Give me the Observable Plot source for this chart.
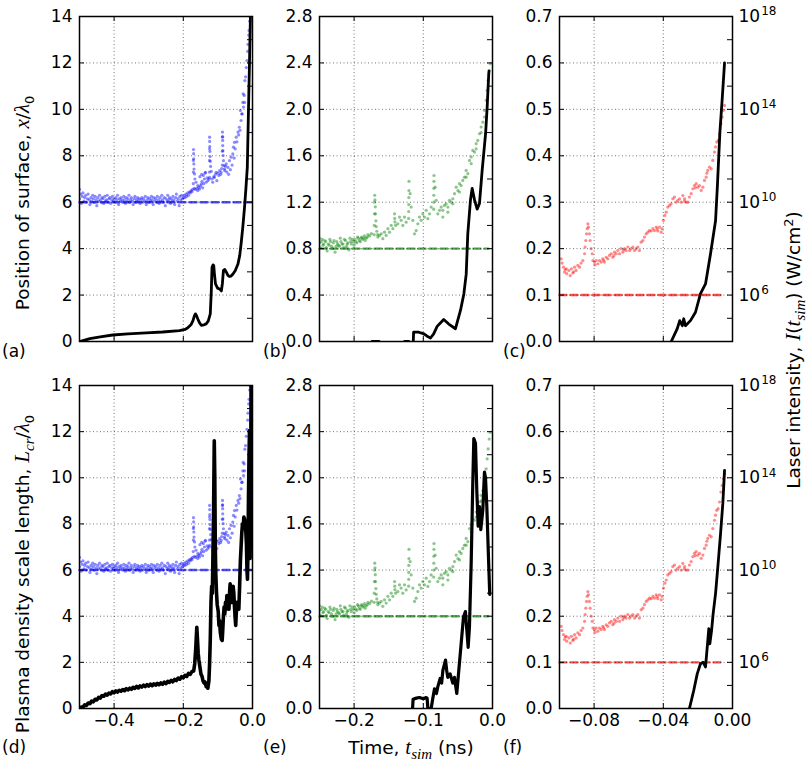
<!DOCTYPE html>
<html><head><meta charset="utf-8">
<script src="https://cdn.jsdelivr.net/npm/d3@7"></script>
<script src="https://cdn.jsdelivr.net/npm/@observablehq/plot@0.6"></script>
<style>
body{margin:0;background:#fff;}
#chart{position:relative;width:808px;height:765px;background:#fff;overflow:hidden;}
#chart svg{position:absolute;left:0;top:0;}
</style></head><body><div id="chart"></div>
<script>
// ---------------- DATA ----------------
// time axes (ns)
const xDomainA = [-0.5, 0], xDomainB = [-0.25, 0], xDomainC = [-0.1, 0];
const xTicksA = [-0.4, -0.2, 0.0], xTicksB = [-0.2, -0.1, 0.0], xTicksC = [-0.08, -0.04, 0.0];
const yDomainA = [0, 14], yDomainB = [0, 2.8], yDomainC = [0, 0.7];
const yTicksA = [0, 2, 4, 6, 8, 10, 12, 14];
const yTicksB = [0, 0.4, 0.8, 1.2, 1.6, 2.0, 2.4, 2.8];
const yTicksC = [0, 0.1, 0.2, 0.3, 0.4, 0.5, 0.6, 0.7];
// right axis: log10 of laser intensity (W/cm^2)
const intensityDomainExp = [4, 18];
const intensityLabelExp = [6, 10, 14, 18];
const intensityTickExp = [5, 6, 7, 8, 9, 10, 11, 12, 13, 14, 15, 16, 17];
// threshold intensity (dashed), [t, log10 I]
const thresholdA = [[-0.5, 10], [0, 10]];
const thresholdB = [[-0.25, 8], [-0.006, 8]];
const thresholdC = [[-0.1, 6], [-0.006, 6]];

// laser intensity samples [t (ns), log10 I] - blue (a,d)
const blueDots = [
[-0.500,10.55],[-0.500,10.15],[-0.497,10.35],[-0.495,9.95],[-0.492,10.25],[-0.490,10.4],[-0.487,10.05],[-0.485,10.2],[-0.482,10.3],[-0.480,10.0],
[-0.477,10.15],[-0.475,10.35],[-0.472,10.1],[-0.470,9.9],[-0.467,10.2],[-0.465,10.05],[-0.462,10.3],[-0.460,10.15],[-0.457,10.0],[-0.455,10.25],
[-0.452,10.1],[-0.450,9.85],[-0.447,10.2],[-0.445,10.05],[-0.442,10.3],[-0.440,10.1],[-0.437,10.0],[-0.435,10.2],[-0.432,10.15],[-0.430,9.95],
[-0.427,10.25],[-0.425,10.05],[-0.422,10.1],[-0.420,10.3],[-0.417,10.0],[-0.415,10.15],[-0.412,10.2],[-0.410,9.95],[-0.407,10.1],[-0.405,10.25],
[-0.402,10.05],[-0.400,10.15],[-0.397,10.0],[-0.395,10.2],[-0.392,10.1],[-0.390,10.3],[-0.387,9.9],[-0.385,10.15],[-0.382,10.05],[-0.380,10.2],
[-0.377,10.1],[-0.375,10.0],[-0.372,10.25],[-0.370,10.1],[-0.367,9.95],[-0.365,10.2],[-0.362,10.05],[-0.360,10.15],[-0.357,10.3],[-0.355,10.0],
[-0.352,10.1],[-0.350,10.2],[-0.347,10.05],[-0.345,9.9],[-0.342,10.15],[-0.340,10.25],[-0.337,10.0],[-0.335,10.1],[-0.332,10.2],[-0.330,10.05],
[-0.327,10.15],[-0.325,9.95],[-0.322,10.1],[-0.320,10.2],[-0.317,10.0],[-0.315,10.15],[-0.312,10.05],[-0.310,10.25],[-0.307,9.9],[-0.305,10.1],
[-0.302,10.2],[-0.300,10.0],[-0.297,10.15],[-0.295,10.05],[-0.292,10.25],[-0.290,10.1],[-0.287,9.9],[-0.285,10.2],[-0.282,10.05],[-0.280,10.15],
[-0.277,10.0],[-0.275,10.25],[-0.272,10.1],[-0.270,9.95],[-0.267,10.2],[-0.265,10.05],[-0.262,10.3],[-0.260,10.1],[-0.257,10.0],[-0.255,10.2],
[-0.252,9.85],[-0.250,10.15],[-0.247,10.05],[-0.245,10.3],[-0.242,10.1],[-0.240,10.2],[-0.237,9.95],[-0.235,10.15],[-0.232,10.05],[-0.230,10.25],
[-0.227,10.1],[-0.225,9.9],[-0.222,10.2],[-0.220,10.35],[-0.217,10.05],[-0.215,10.15],[-0.212,9.85],[-0.210,10.25],[-0.207,10.1],[-0.205,10.3],
[-0.202,10.15],[-0.200,10.2],[-0.197,10.3],[-0.195,10.2],[-0.192,10.35],[-0.190,10.25],[-0.187,10.4],[-0.185,10.3],[-0.182,10.45],[-0.180,10.4],
[-0.177,10.5],[-0.175,10.45],[-0.173,10.55],
[-0.1712,10.8],[-0.171,11.3],[-0.1708,11.8],[-0.1706,12.27],[-0.1702,12.09],[-0.170,11.87],[-0.1695,11.65],[-0.169,11.43],[-0.1675,11.22],[-0.1665,11.0],[-0.163,10.86],[-0.158,10.72],
[-0.168,10.6],[-0.165,10.55],[-0.160,10.6],[-0.158,10.5],[-0.155,10.65],[-0.153,10.57],[-0.150,10.7],[-0.148,10.79],[-0.146,10.9],[-0.144,10.62],
[-0.141,10.8],[-0.139,11.0],[-0.136,11.29],[-0.134,10.86],[-0.131,11.05],[-0.129,10.93],[-0.126,11.0],[-0.124,11.07],
[-0.152,11.1],[-0.147,11.2],[-0.142,11.15],[-0.137,11.25],
[-0.1245,11.3],[-0.1243,11.8],[-0.1241,12.3],[-0.124,12.8],[-0.1238,12.62],[-0.1235,12.4],[-0.123,12.19],[-0.1225,11.97],[-0.122,11.76],[-0.121,11.54],[-0.119,11.33],
[-0.117,11.0],[-0.115,10.86],[-0.112,11.1],[-0.110,11.07],[-0.107,11.2],[-0.105,11.29],[-0.103,10.93],[-0.100,11.25],[-0.097,11.15],[-0.095,11.36],[-0.092,11.2],[-0.0906,11.29],[-0.089,11.45],
[-0.0872,11.6],[-0.087,12.2],[-0.0868,12.8],[-0.0867,13.02],[-0.0865,12.83],[-0.0862,12.66],[-0.086,12.44],[-0.0855,12.22],[-0.085,12.01],[-0.084,11.79],[-0.082,11.58],[-0.080,11.36],
[-0.081,11.43],[-0.078,11.55],[-0.076,11.65],[-0.074,11.3],[-0.071,11.5],[-0.069,11.2],[-0.0665,11.79],[-0.064,11.4],[-0.0617,11.94],[-0.059,11.6],
[-0.057,12.08],[-0.055,12.37],[-0.053,11.9],[-0.052,12.58],[-0.050,12.3],[-0.047,12.8],[-0.045,12.6],[-0.042,13.02],[-0.040,12.9],[-0.038,13.23],
[-0.036,13.1],[-0.035,13.95],[-0.033,13.52],[-0.031,13.8],[-0.030,13.81],[-0.028,14.3],[-0.027,14.67],[-0.026,14.1],[-0.024,14.6],[-0.023,14.3],
[-0.022,15.24],[-0.020,15.4],[-0.018,15.8],[-0.016,16.1],[-0.014,16.5],[-0.013,16.8],[-0.011,17.2],[-0.010,17.4],[-0.008,17.8],[-0.007,18.0]
];

// green (b,e)
const greenDots = [
[-0.250,8.45],[-0.250,8.25],[-0.2475,8.3],[-0.245,8.15],[-0.2425,8.35],[-0.240,8.05],[-0.2375,8.2],[-0.235,8.4],[-0.2325,8.1],[-0.230,8.25],
[-0.2275,7.85],[-0.225,8.3],[-0.2225,8.15],[-0.220,8.45],[-0.2175,8.2],[-0.215,8.05],[-0.2125,8.35],[-0.210,8.2],[-0.2075,7.95],[-0.205,8.3],
[-0.2025,8.4],[-0.200,8.15],[-0.1975,8.3],[-0.195,8.5],[-0.1925,8.35],[-0.190,8.45],[-0.1875,8.4],[-0.185,8.55],[-0.1825,8.45],[-0.180,8.6],
[-0.1775,8.55],[-0.175,8.65],
[-0.249,8.05],[-0.246,8.4],[-0.244,8.2],[-0.241,8.3],[-0.239,7.9],[-0.236,8.15],[-0.234,8.3],[-0.231,8.0],[-0.229,8.35],[-0.226,8.1],
[-0.224,8.2],[-0.221,8.1],[-0.219,8.3],[-0.216,8.2],[-0.214,8.4],[-0.211,8.1],[-0.209,8.25],[-0.206,8.45],[-0.204,8.2],[-0.201,8.3],
[-0.199,8.4],[-0.196,8.25],[-0.194,8.45],[-0.191,8.3],[-0.189,8.5],[-0.186,8.45],[-0.184,8.35],[-0.181,8.5],
[-0.1710,8.6],[-0.1708,9.0],[-0.1706,9.5],[-0.1704,10.0],[-0.1702,10.3],[-0.1698,10.1],[-0.1694,9.8],[-0.169,9.5],[-0.1685,9.2],[-0.168,8.95],[-0.1672,8.75],[-0.166,8.6],
[-0.1657,8.5],[-0.1633,8.57],[-0.1609,8.64],[-0.1585,8.43],[-0.1561,8.71],[-0.1537,8.57],[-0.1512,8.86],[-0.1488,8.71],[-0.1464,9.0],[-0.144,8.86],
[-0.1415,9.5],[-0.1413,9.3],[-0.141,9.15],[-0.140,9.0],
[-0.1368,9.07],[-0.1344,9.36],[-0.132,9.22],[-0.1296,9.0],[-0.1272,9.36],[-0.1248,9.14],
[-0.1212,9.3],[-0.1211,9.6],[-0.1210,9.9],[-0.1209,10.2],[-0.1208,10.5],[-0.1207,10.9],[-0.119,10.37],[-0.1175,9.79],[-0.1151,9.22],[-0.1127,8.64],
[-0.1103,8.78],[-0.1079,9.07],[-0.1055,9.36],[-0.1031,9.22],[-0.1007,9.5],[-0.0983,9.36],[-0.0959,9.65],[-0.0934,9.29],[-0.091,9.5],[-0.0886,9.79],
[-0.0850,9.7],[-0.0849,10.0],[-0.0848,10.3],[-0.0847,10.6],[-0.0846,10.9],[-0.0845,11.15],[-0.0828,10.65],[-0.0814,10.08],[-0.079,9.5],[-0.0766,9.65],
[-0.0742,9.79],[-0.0718,9.65],[-0.0694,9.86],[-0.067,9.93],[-0.0645,9.79],[-0.0621,10.08],[-0.0597,10.0],[-0.0573,10.15],[-0.0549,10.37],[-0.0525,10.65],
[-0.050,10.5],[-0.0477,10.8],[-0.0453,10.72],[-0.0429,10.94],[-0.0405,11.08],[-0.0381,11.37],[-0.0356,11.23],[-0.0332,11.8],[-0.0308,11.95],[-0.0284,12.23],
[-0.026,12.16],[-0.0236,12.52],[-0.0212,12.66],[-0.0188,12.95],[-0.0164,13.24],[-0.014,13.45],[-0.0116,13.96],[-0.0092,14.39],[-0.0077,14.82],[-0.0063,15.25],
[-0.0048,15.68],[-0.0034,15.97],
[-0.0718,9.36],[-0.0645,9.57],[-0.0573,9.93],[-0.0477,10.44],[-0.0381,11.08],[-0.0308,11.66],[-0.0236,12.3],[-0.0164,13.0],[-0.0116,13.67]
];

// red (c,f)
const redDots = [
[-0.099,7.56],[-0.0985,7.38],[-0.0977,7.2],[-0.0971,6.99],[-0.0961,7.13],[-0.0958,6.92],[-0.0946,7.06],[-0.0938,6.84],[-0.0931,7.13],[-0.0923,6.95],
[-0.0913,7.2],[-0.0904,7.06],[-0.0894,7.28],[-0.0884,7.2],[-0.0875,7.38],[-0.0865,7.49],
[-0.0855,7.78],[-0.0852,8.07],[-0.0848,8.35],[-0.0844,8.64],[-0.084,8.86],[-0.0836,9.07],[-0.0832,8.93],[-0.0827,8.64],[-0.0823,8.35],[-0.0817,8.0],
[-0.0811,7.78],[-0.0807,7.49],[-0.0798,7.42],[-0.0788,7.49],[-0.0778,7.35],[-0.0769,7.49],[-0.0759,7.42],[-0.075,7.56],[-0.074,7.42],[-0.073,7.63],
[-0.0721,7.56],[-0.0711,7.71],[-0.0701,7.78],[-0.0692,7.63],[-0.0682,7.85],[-0.0672,7.78],[-0.0663,7.92],[-0.0653,7.78],[-0.0644,8.0],[-0.0634,7.85],
[-0.0624,8.0],[-0.0615,7.92],[-0.0605,8.07],[-0.0595,7.92],[-0.0586,8.0],[-0.0576,8.07],[-0.0566,7.92],[-0.0557,8.0],[-0.0547,8.07],[-0.0538,7.92],
[-0.0528,8.28],[-0.0518,8.35],[-0.0509,8.5],[-0.0499,8.64],[-0.0489,8.71],[-0.048,8.78],[-0.047,8.76],[-0.046,8.86],[-0.0451,8.78],[-0.0441,8.93],
[-0.0432,8.76],[-0.0422,8.93],[-0.0412,8.71],[-0.0407,8.86],[-0.0399,9.22],[-0.0391,9.43],[-0.0383,9.57],[-0.0374,9.79],[-0.0364,9.86],[-0.0355,9.93],
[-0.0345,10.15],[-0.0335,10.22],[-0.0326,10.0],[-0.0316,10.08],[-0.0306,10.15],[-0.0297,10.0],[-0.0287,10.29],[-0.0277,10.15],[-0.0268,10.0],[-0.0258,10.0],
[-0.0249,10.22],[-0.0239,10.37],[-0.0229,10.58],[-0.022,10.72],[-0.021,10.8],[-0.020,10.65],[-0.0191,10.72],[-0.0181,10.51],[-0.0171,10.65],[-0.0162,10.94],
[-0.0152,11.08],[-0.0143,11.37],[-0.0133,11.51],[-0.0123,11.44],[-0.0114,11.8],[-0.0104,12.16],[-0.0098,12.38],[-0.0091,12.59],[-0.0083,12.66],[-0.0075,12.95],
[-0.0067,13.38],[-0.006,13.67],[-0.0052,13.96],[-0.0046,14.17],
[-0.0967,7.1],[-0.0918,7.0],[-0.0795,7.3],[-0.0745,7.5],[-0.0685,7.7],[-0.0628,7.95],[-0.0435,8.85],[-0.0278,10.05],[-0.0215,10.62],[-0.0148,11.25]
];

// position of surface x/lambda0 : [t, value]
const aLine = [
[-0.5,0.0],[-0.47,0.12],[-0.44,0.2],[-0.404,0.28],[-0.36,0.33],[-0.307,0.37],[-0.26,0.41],[-0.211,0.47],[-0.195,0.52],[-0.187,0.59],
[-0.178,0.72],[-0.172,0.9],[-0.168,1.1],[-0.165,1.19],[-0.162,1.12],[-0.158,0.97],[-0.153,0.8],[-0.148,0.7],[-0.14,0.72],[-0.134,0.76],
[-0.128,0.88],[-0.122,1.19],[-0.119,2.2],[-0.117,3.2],[-0.114,3.3],[-0.112,3.27],[-0.11,2.9],[-0.107,2.48],[-0.101,2.3],[-0.095,2.26],
[-0.09,2.18],[-0.087,2.5],[-0.084,3.06],[-0.08,3.1],[-0.076,3.0],[-0.071,2.85],[-0.067,2.8],[-0.062,2.82],[-0.057,2.9],[-0.05,3.05],
[-0.042,3.34],[-0.037,3.7],[-0.033,4.2],[-0.028,4.93],[-0.023,5.79],[-0.019,6.6],[-0.015,7.5],[-0.011,10.4],[-0.008,12.5],[-0.006,13.97],[-0.005,14.5]
];
const bLine = [
[-0.174,0,0],[-0.164,0,0],
[-0.127,0,1],[-0.121,0,1],
[-0.1145,0.0,2],[-0.114,0.08,2],[-0.1065,0.08,2],[-0.099,0.066,2],[-0.093,0.04,2],[-0.0896,0.03,2],[-0.085,0.066,2],[-0.08,0.13,2],[-0.0705,0.19,2],
[-0.0632,0.15,2],[-0.0535,0.11,2],[-0.0462,0.27,2],[-0.0414,0.41,2],[-0.038,0.58,2],[-0.0357,0.93,2],[-0.0318,1.22,2],[-0.0294,1.32,2],[-0.026,1.22,2],
[-0.0222,1.14,2],[-0.0188,1.19,2],[-0.015,1.47,2],[-0.01,1.79,2],[-0.0077,2.02,2],[-0.0054,2.31,2],[-0.005,2.33,2]
];
const cLine = [
[-0.0354,0.0],[-0.032,0.027],[-0.0305,0.045],[-0.029,0.034],[-0.0282,0.049],[-0.0272,0.034],[-0.0243,0.045],[-0.0214,0.063],[-0.0185,0.103],
[-0.0156,0.124],[-0.0127,0.189],[-0.0098,0.26],[-0.0088,0.33],[-0.0073,0.45],[-0.006,0.52],[-0.0046,0.6]
];
// plasma density scale length L_cr/lambda0 : [t, value]
const dLine = [
[-0.5,0.0],[-0.495,0.06],[-0.49,0.05],[-0.485,0.16],[-0.48,0.13],[-0.475,0.24],[-0.47,0.21],[-0.465,0.32],[-0.46,0.29],[-0.455,0.4],
[-0.45,0.37],[-0.445,0.48],[-0.44,0.45],[-0.435,0.56],[-0.43,0.53],[-0.425,0.62],[-0.42,0.58],[-0.415,0.67],[-0.41,0.63],[-0.405,0.73],
[-0.4,0.68],[-0.395,0.76],[-0.39,0.71],[-0.385,0.79],[-0.38,0.75],[-0.375,0.82],[-0.37,0.77],[-0.365,0.86],[-0.36,0.81],[-0.355,0.88],
[-0.35,0.83],[-0.345,0.92],[-0.34,0.87],[-0.335,0.96],[-0.33,0.89],[-0.325,0.98],[-0.32,0.93],[-0.315,1.01],[-0.31,0.95],[-0.305,1.03],
[-0.3,0.97],[-0.295,1.06],[-0.29,0.99],[-0.285,1.07],[-0.28,1.01],[-0.275,1.09],[-0.27,1.03],[-0.265,1.11],[-0.26,1.05],[-0.255,1.14],
[-0.25,1.08],[-0.245,1.18],[-0.24,1.13],[-0.235,1.22],[-0.23,1.16],[-0.225,1.26],[-0.22,1.21],[-0.215,1.32],[-0.21,1.27],[-0.205,1.38],
[-0.2,1.33],[-0.195,1.44],[-0.19,1.39],[-0.185,1.52],[-0.18,1.48],[-0.175,1.6],[-0.17,1.62],[-0.167,1.94],[-0.164,2.6],[-0.161,3.52],
[-0.159,3.0],[-0.157,2.4],[-0.155,2.1],[-0.152,1.8],[-0.149,1.5],[-0.146,1.4],[-0.143,1.2],[-0.14,1.1],[-0.137,1.15],[-0.134,0.95],
[-0.131,1.0],[-0.129,0.88],[-0.126,1.2],[-0.124,1.94],[-0.122,3.0],[-0.12,4.6],[-0.118,5.3],[-0.116,5.0],[-0.1147,6.27],[-0.1125,8.5],
[-0.1105,11.6],[-0.109,10.0],[-0.1075,7.0],[-0.106,5.8],[-0.104,5.0],[-0.102,4.5],[-0.099,4.2],[-0.097,3.6],[-0.095,3.8],[-0.093,3.3],
[-0.09,3.0],[-0.0876,2.95],[-0.086,3.4],[-0.084,4.0],[-0.082,4.4],[-0.08,4.1],[-0.078,4.6],[-0.076,4.3],[-0.074,4.9],[-0.072,4.5],
[-0.07,4.7],[-0.068,4.3],[-0.066,5.1],[-0.0646,5.4],[-0.062,4.6],[-0.06,5.0],[-0.058,4.6],[-0.056,5.3],[-0.054,5.0],[-0.052,4.4],
[-0.05,3.9],[-0.0485,3.6],[-0.047,4.1],[-0.045,4.6],[-0.043,4.3],[-0.041,4.5],[-0.0395,4.3],[-0.037,5.4],[-0.035,6.4],[-0.033,7.0],
[-0.031,7.6],[-0.029,8.0],[-0.027,7.8],[-0.025,8.3],[-0.023,8.2],[-0.021,8.0],[-0.019,7.6],[-0.0175,7.1],[-0.016,6.0],[-0.0145,5.6],
[-0.013,7.0],[-0.0116,9.16],[-0.01,11.0],[-0.0087,12.05],[-0.0078,9.0],[-0.007,6.5],[-0.006,8.0],[-0.005,11.0],[-0.004,14.5]
];
const eLine = [
[-0.1155,0,0],[-0.1148,0.08,0],[-0.11,0.09,0],[-0.1055,0.095,0],[-0.1,0.085,0],[-0.0959,0.095,0],[-0.0945,0.09,0],[-0.0934,0.0,0],[-0.0886,0.0,0],
[-0.0865,0.08,0],[-0.0838,0.17,0],[-0.081,0.13,0],[-0.079,0.19,0],[-0.0756,0.26,0],[-0.0735,0.22,0],[-0.0717,0.33,0],[-0.0679,0.42,0],[-0.0662,0.33,0],
[-0.0646,0.27,0],[-0.0612,0.3,0],[-0.0574,0.22,0],[-0.055,0.27,0],[-0.0516,0.13,0],[-0.0487,0.33,0],[-0.0453,0.56,0],[-0.042,0.79,0],[-0.0391,0.84,0],
[-0.0371,0.68,0],[-0.0352,0.53,0],[-0.0333,0.71,0],[-0.0308,1.26,0],[-0.0284,1.98,0],[-0.027,2.34,0],[-0.0246,2.3,0],[-0.0227,1.89,0],[-0.0207,1.58,0],
[-0.0188,1.75,0],[-0.0169,1.55,0],[-0.014,1.72,0],[-0.0116,2.05,0],[-0.0101,2.0,0],[-0.0082,1.75,0],[-0.0058,1.31,0],[-0.004,0.99,0]
];
const fLine = [
[-0.0249,0.0],[-0.0224,0.039],[-0.0204,0.075],[-0.0185,0.097],[-0.0169,0.1],[-0.0156,0.09],[-0.0146,0.133],[-0.0137,0.173],[-0.0131,0.14],
[-0.0121,0.169],[-0.0112,0.205],[-0.0098,0.249],[-0.0085,0.306],[-0.0069,0.379],[-0.0056,0.444],[-0.0046,0.516]
];
const panelLetters = ["(a)", "(b)", "(c)", "(d)", "(e)", "(f)"];

// ---------------- LAYOUT ----------------
const W = 808, H = 765;
const colX = [[79, 252], [319, 492], [559, 732]];
const rowY = [[16, 341], [385, 708]];
const FONT = "'DejaVu Sans', sans-serif";
const colors = {blue: "#0000ff", green: "#008000", red: "#ff0000"};

const panels = [
  {col:0,row:0,xd:xDomainA,xt:xTicksA,yd:yDomainA,yt:yTicksA,yf:d3.format(".0f"),xf:d3.format(".1f"),line:aLine,dots:blueDots,thr:thresholdA,color:colors.blue,lw:2.8},
  {col:1,row:0,xd:xDomainB,xt:xTicksB,yd:yDomainB,yt:yTicksB,yf:d3.format(".1f"),xf:d3.format(".1f"),line:bLine,dots:greenDots,thr:thresholdB,color:colors.green,lw:2.8},
  {col:2,row:0,xd:xDomainC,xt:xTicksC,yd:yDomainC,yt:yTicksC,yf:d3.format(".1f"),xf:d3.format(".2f"),line:cLine,dots:redDots,thr:thresholdC,color:colors.red,lw:2.8,right:true},
  {col:0,row:1,xd:xDomainA,xt:xTicksA,yd:yDomainA,yt:yTicksA,yf:d3.format(".0f"),xf:d3.format(".1f"),line:dLine,dots:blueDots,thr:thresholdA,color:colors.blue,lw:3.6},
  {col:1,row:1,xd:xDomainB,xt:xTicksB,yd:yDomainB,yt:yTicksB,yf:d3.format(".1f"),xf:d3.format(".1f"),line:eLine,dots:greenDots,thr:thresholdB,color:colors.green,lw:3.2},
  {col:2,row:1,xd:xDomainC,xt:xTicksC,yd:yDomainC,yt:yTicksC,yf:d3.format(".1f"),xf:d3.format(".2f"),line:fLine,dots:redDots,thr:thresholdC,color:colors.red,lw:2.8,right:true}
];

const chart = document.getElementById("chart");
const baseStyle = {background: "transparent", fontFamily: FONT, fontSize: "17px", color: "#000", overflow: "visible"};

panels.forEach(p => {
  const [L, R] = colX[p.col], [T, B] = rowY[p.row];
  const w = R - L, h = B - T;
  const geom = {width: W, height: H, marginLeft: L, marginRight: W - R, marginTop: T, marginBottom: H - B, style: baseStyle};

  // layer 1: laser intensity on a log scale (right axis)
  const logPlot = Plot.plot({
    ...geom,
    x: {domain: p.xd, axis: null},
    y: {type: "log", domain: intensityDomainExp.map(e => 10 ** e), axis: null},
    marks: [
      Plot.dot(p.dots, {x: d => d[0], y: d => 10 ** d[1], r: 1.6, fill: p.color, fillOpacity: 0.45, clip: true}),
      Plot.line(p.thr, {x: d => d[0], y: d => 10 ** d[1], stroke: p.color, strokeOpacity: 0.7, strokeWidth: 2.4, strokeDasharray: "7,4"}),
      Plot.ruleY(intensityTickExp.map(e => 10 ** e), {insetLeft: w - 5, stroke: "#000", strokeWidth: 1}),
      p.right ? Plot.axisY({anchor: "right", ticks: intensityLabelExp.map(e => 10 ** e), tickSize: 0, tickPadding: 6, label: null,
        tickFormat: d => "10^" + Math.round(Math.log10(d))}) : null
    ]
  });
  logPlot.querySelectorAll("text").forEach(t => {
    const m = /^10\^(\d+)$/.exec(t.textContent);
    if (m) {
      t.textContent = "";
      const a = document.createElementNS("http://www.w3.org/2000/svg", "tspan");
      a.textContent = "10";
      const b = document.createElementNS("http://www.w3.org/2000/svg", "tspan");
      b.textContent = m[1];
      b.setAttribute("dy", "-0.55em");
      b.setAttribute("font-size", "12px");
      b.setAttribute("dx", "1");
      t.appendChild(a); t.appendChild(b);
    }
  });
  chart.appendChild(logPlot);

  // layer 2: left linear axis + black curve
  const linPlot = Plot.plot({
    ...geom,
    x: {domain: p.xd, axis: null},
    y: {domain: p.yd, axis: null},
    marks: [
      Plot.gridY({ticks: p.yt, stroke: "#000", strokeOpacity: 0.55, strokeDasharray: "1,2.5", strokeWidth: 1}),
      Plot.gridX({ticks: p.xt, stroke: "#000", strokeOpacity: 0.55, strokeDasharray: "1,2.5", strokeWidth: 1}),
      Plot.line(p.line, {x: d => d[0], y: d => d[1], z: d => (d.length > 2 ? d[2] : 0), stroke: "#000", strokeWidth: p.lw, strokeLinejoin: "round", clip: true}),
      Plot.ruleY(p.yt, {insetRight: w - 5, stroke: "#000"}),
      Plot.ruleX(p.xt, {insetTop: h - 5, stroke: "#000"}),
      Plot.ruleX(p.xt, {insetBottom: h - 5, stroke: "#000"}),
      Plot.axisY({ticks: p.yt, tickSize: 0, tickPadding: 7, tickFormat: p.yf, label: null}),
      p.row === 1 ? Plot.axisX({ticks: p.xt, tickSize: 0, tickPadding: 5, tickFormat: p.xf, label: null}) : null,
      Plot.frame({stroke: "#000", strokeWidth: 1.5})
    ]
  });
  chart.appendChild(linPlot);
});

// ---------------- TEXT LABELS ----------------
const svg = d3.select(chart).append("svg").attr("width", W).attr("height", H)
  .style("font-family", FONT).style("font-size", "18.5px");

function rich(sel, parts) {
  let shift = 0;
  parts.forEach(pt => {
    const ts = sel.append("tspan").text(pt.t);
    let target = 0;
    if (pt.sub) target = 5;
    if (pt.sup) target = -7;
    const dy = target - shift;
    if (dy !== 0) ts.attr("dy", dy);
    shift = target;
    if (pt.sub || pt.sup) ts.attr("font-size", "13px");
    if (pt.it) ts.attr("font-style", "italic").attr("font-family", "'Liberation Serif', serif").attr("font-size", (pt.sub || pt.sup) ? "15px" : "21px");
  });
}

const lab1 = svg.append("text").attr("transform", "translate(29,203) rotate(-90)").attr("text-anchor", "middle");
rich(lab1, [{t: "Position of surface, "}, {t: "x", it: true}, {t: "/"}, {t: "λ", it: true}, {t: "0", sub: true}]);

const lab2 = svg.append("text").attr("transform", "translate(29,574) rotate(-90)").attr("text-anchor", "middle");
rich(lab2, [{t: "Plasma density scale length, "}, {t: "L", it: true}, {t: "cr", it: true, sub: true}, {t: "/"}, {t: "λ", it: true}, {t: "0", sub: true}]);

const lab3 = svg.append("text").attr("transform", "translate(800,350) rotate(-90)").attr("text-anchor", "middle");
rich(lab3, [{t: "Laser intensity, "}, {t: "I", it: true}, {t: "("}, {t: "t", it: true}, {t: "sim", it: true, sub: true}, {t: ") (W/cm"}, {t: "2", sup: true}, {t: ")"}]);

const lab4 = svg.append("text").attr("transform", "translate(411,754)").attr("text-anchor", "middle");
rich(lab4, [{t: "Time, "}, {t: "t", it: true}, {t: "sim", it: true, sub: true}, {t: " (ns)"}]);

const letterPos = [[2, 357], [263, 357], [503, 357], [2, 753], [263, 753], [503, 753]];
panelLetters.forEach((s, i) => {
  svg.append("text").attr("x", letterPos[i][0]).attr("y", letterPos[i][1]).style("font-size", "17px").text(s);
});
</script></body></html>
